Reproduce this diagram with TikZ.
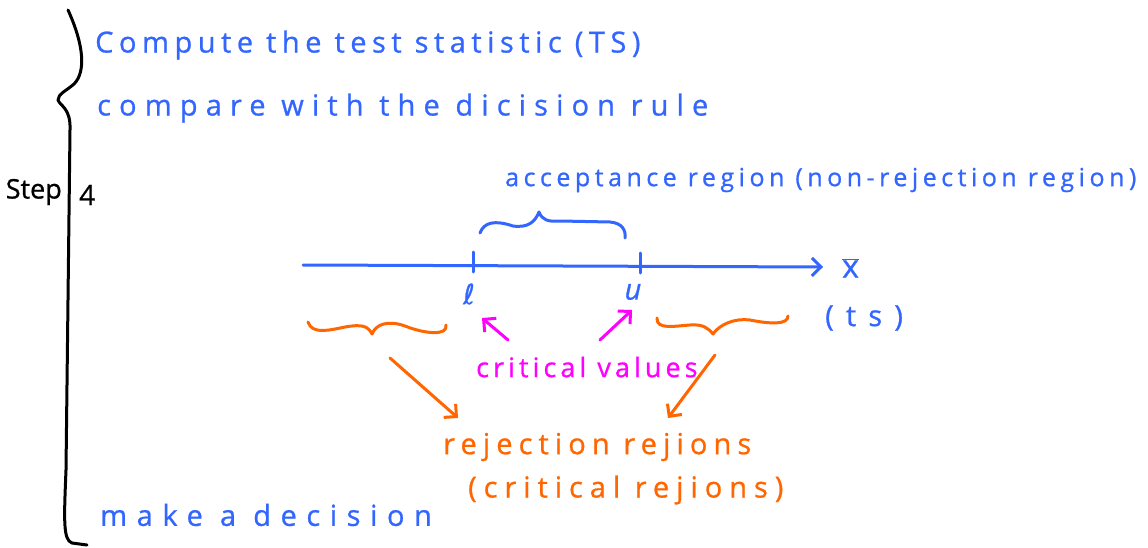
\documentclass[tikz,border=0pt]{standalone}
\usepackage{fontspec}
\setmainfont{Open Sans}
\newfontfamily\handfont[FakeBold=0.8]{Open Sans}
\newfontfamily\symfont[FakeBold=0.8]{DejaVu Sans}
\usetikzlibrary{arrows.meta,calc}
\definecolor{inkblue}{RGB}{51,102,255}
\definecolor{inkmag}{RGB}{255,0,255}
\definecolor{inkorange}{RGB}{255,102,0}
\tikzset{
  ink/.style={line width=3pt, line cap=round, line join=round},
  hand/.style 2 args={inner sep=0pt, anchor=west,
    font=\handfont\fontsize{#1}{#1}\selectfont\addfontfeature{LetterSpace=#2}},
  barb/.style={-{Straight Barb[length=9pt, width=18pt, line width=3pt]}},
}
\begin{document}
\begin{tikzpicture}[x=1pt, y=-1pt]
\useasboundingbox (0,0) rectangle (1148,548);

% black outer brace
\draw[ink, black] (68,10) .. controls (84,45) and (86,72) .. (74,84)
  .. controls (66,91) and (58,94) .. (58,100)
  .. controls (60,106) and (71,108) .. (70,130)
  -- (66,470) .. controls (64,520) and (63,540) .. (72,543) -- (87,545);
\node[hand={27}{0}, text=black, anchor=east] (step) at (62,192) {Step};
\node[hand={28}{0}, text=black] (four) at (79,195) {4};

% blue text lines
\node[hand={29}{19}, text=inkblue] (compute) at (95,45) {Compute the test statistic (TS)};
\node[hand={29}{28}, text=inkblue] (compare) at (97,108) {compare with the dicision rule};
\node[hand={25}{18}, text=inkblue] (accept) at (505,180) {acceptance region (non-rejection region)};
\node[hand={29}{33}, text=inkblue] (decide) at (100,515) {make a decision};

% axis
\coordinate (axstart) at (303,265);
\coordinate (axend) at (823,267);
\draw[ink, inkblue, barb] (axstart) -- (axend);
\node[hand={32}{0}, text=inkblue] (xbar) at (842,268) {$\overline{\hbox{x}}$};
\coordinate (ltick) at (473,262);
\coordinate (utick) at (640,263);
\draw[ink, inkblue] ($(ltick)+(0,-10)$) -- ($(ltick)+(0,10)$);
\draw[ink, inkblue] ($(utick)+(0,-10)$) -- ($(utick)+(0,10)$);
\node[inner sep=0pt, text=inkblue, font=\symfont\fontsize{28}{28}\selectfont] (l) at (469,294) {ℓ};
\node[inner sep=0pt, text=inkblue, font=\handfont\itshape\fontsize{29}{29}\selectfont] (u) at (633,292) {u};
\node[hand={29}{42}, text=inkblue] (ts) at (825,318) {(ts)};

% acceptance brace
\draw[ink, inkblue] (480,233) .. controls (484,222) and (495,220) .. (513,226)
  .. controls (528,228) and (535,222) .. (539,212)
  .. controls (542,220) and (548,222) .. (560,221)
  -- (610,222) .. controls (622,223) and (626,230) .. (625,238);

% orange braces
\draw[ink, inkorange] (308,322) .. controls (312,335) and (330,330) .. (345,327)
  .. controls (362,324) and (368,326) .. (372,334)
  .. controls (376,324) and (388,320) .. (405,326)
  .. controls (425,334) and (448,336) .. (446,325);
\draw[ink, inkorange] (657,318) .. controls (656,330) and (675,326) .. (690,325)
  .. controls (703,324) and (708,328) .. (713,334)
  .. controls (720,324) and (735,318) .. (750,320)
  .. controls (770,324) and (788,325) .. (788,316);
\coordinate (lbrace) at (390,358);
\coordinate (rbrace) at (715,355);

% critical values
\node[hand={27}{15}, text=inkmag] (crit) at (476,367) {critical values};
\draw[ink, inkmag, barb] (508,340) -- (482,318);
\draw[ink, inkmag, barb] (600,340) -- (632,310);

% rejection regions
\node[hand={29}{21}, text=inkorange] (reject) at (443,447) {rejection rejions};
\node[hand={29}{24}, text=inkorange] (critreg) at (468,490) {(critical rejions)};
\draw[ink, inkorange, barb] (lbrace) -- (458,418);
\draw[ink, inkorange, barb] (rbrace) -- (668,418);
\end{tikzpicture}
\end{document}
